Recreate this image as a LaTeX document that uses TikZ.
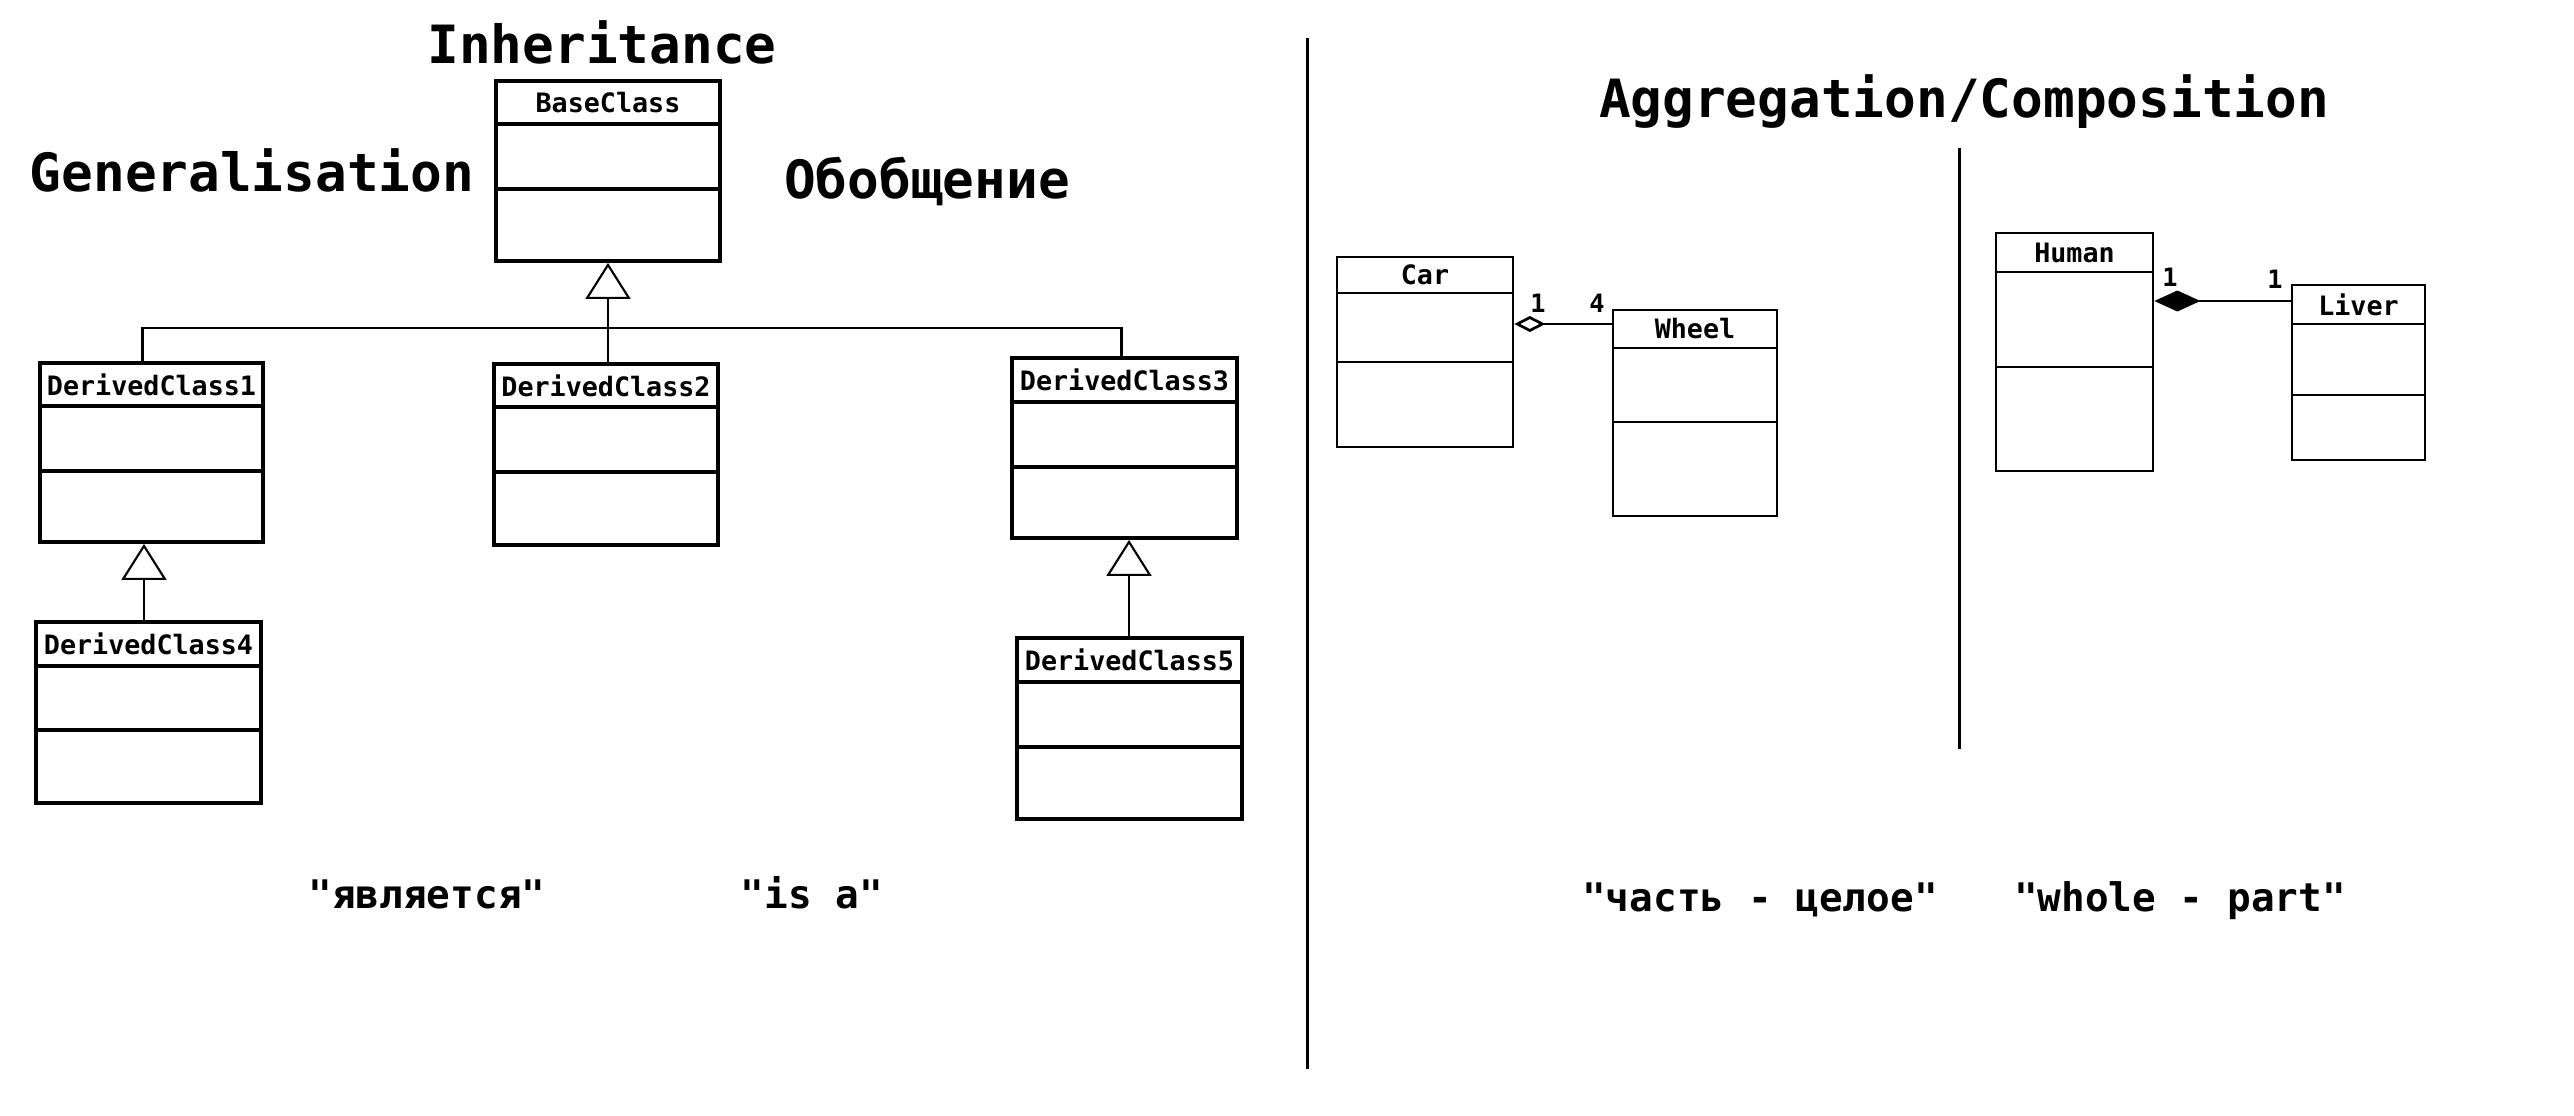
\documentclass[tikz,border=0pt]{standalone}
\usepackage{fontspec}
\setmainfont{DejaVu Sans Mono}[Ligatures=TeXOff]
\usetikzlibrary{arrows.meta,fit}
\tikzset{
    B1/.style ={line width=1.1pt},
    B2/.style ={line width=0.77pt},
    TT/.style ={font=\fontsize{15}{18}\selectfont\bfseries, anchor=base, inner sep=0pt},
    QT/.style ={font=\fontsize{11.2}{13}\selectfont\bfseries, anchor=base, inner sep=0pt},
    CN/.style ={font=\fontsize{7.6}{9}\selectfont\bfseries, inner sep=0pt},
    MU/.style ={font=\fontsize{7.2}{9}\selectfont\bfseries, inner sep=0pt},
    SEP/.style ={line width=0.85pt},
    GL/.style ={line width=0.6pt},
    GE/.style ={line width=0.6pt, -{Triangle[open, length=3.6mm, width=4.5mm]}},
    AG/.style ={line width=0.77pt, -{Diamond[open, length=3.1mm, width=1.6mm]}},
    CO/.style ={line width=0.77pt, -{Diamond[length=4.6mm, width=2.1mm]}}}

% #1 style, #2 name, #3-#6 left top right bottom, #7 #8 dividers, #9 title
\newcommand{\classbox}[9]{
    \node[#1, draw, inner sep=0pt, fit={(#3,#4) (#5,#6)}] (#2) {};
    \draw[#1] (#3,#7) -- (#5,#7);
    \draw[#1] (#3,#8) -- (#5,#8);
    \node[CN] at ({(#3+#5)/2},{(#4+#7)/2}) {#9};
}

\begin{document}
\begin{tikzpicture}[x=0.1mm, y=-0.1mm]
    \useasboundingbox (0,0) rectangle (2574,1116);

    % inheritance
    \node[TT] (t1) at (602,63) {Inheritance};
    \node[TT] (t2) at (252,192) {Generalisation};
    \node[TT] (t3) at (927,198) {Обобщение};
    \classbox{B1}{base}{496}{81}{720}{261}{124}{189}{BaseClass}
    \classbox{B1}{d1}{40}{363}{263}{542}{406}{471}{DerivedClass1}
    \classbox{B1}{d2}{494}{364}{718}{545}{407}{472}{DerivedClass2}
    \classbox{B1}{d3}{1012}{358}{1237}{538}{402}{467}{DerivedClass3}
    \classbox{B1}{d4}{36}{622}{261}{803}{666}{730}{DerivedClass4}
    \classbox{B1}{d5}{1017}{638}{1242}{819}{682}{747}{DerivedClass5}
    \coordinate (bus) at (608,328);
    \draw[GE] (d2.north -| base.south) -- (base.south);
    \draw[GL] ([xshift=-0.9mm]d1.north) |- (bus) -| ([xshift=-0.3mm]d3.north);
    \draw[GE] (d4.north -| 144,0) -- (d1.south -| 144,0);
    \draw[GE] (d5.north -| 1129,0) -- (d3.south -| 1129,0);
    \node[QT] (q1) at (427,908) {"является"};
    \node[QT] (q2) at (812,908) {"is a"};

    \draw[SEP] (1307,38) -- (1307,1069);

    % aggregation / composition
    \node[TT] (t4) at (1964,117) {Aggregation/Composition};
    \draw[SEP] (1959,148) -- (1959,749);
    \classbox{B2}{car}{1337}{257}{1513}{447}{293}{362}{Car}
    \classbox{B2}{wheel}{1613}{310}{1777}{516}{348}{422}{Wheel}
    \classbox{B2}{human}{1996}{233}{2153}{471}{272}{367}{Human}
    \classbox{B2}{liver}{2292}{285}{2425}{460}{324}{395}{Liver}
    \draw[AG] (wheel.west |- 0,324) -- (car.east |- 0,324);
    \draw[CO] (liver.west |- 0,301) -- (human.east |- 0,301);
    \node[MU] (m1) at (1538,303) {1};
    \node[MU] (m2) at (1597,303) {4};
    \node[MU] (m3) at (2170,277) {1};
    \node[MU] (m4) at (2275,279) {1};
    \node[QT] (q3) at (1760,911) {"часть - целое"};
    \node[QT] (q4) at (2180,911) {"whole - part"};
\end{tikzpicture}
\end{document}
